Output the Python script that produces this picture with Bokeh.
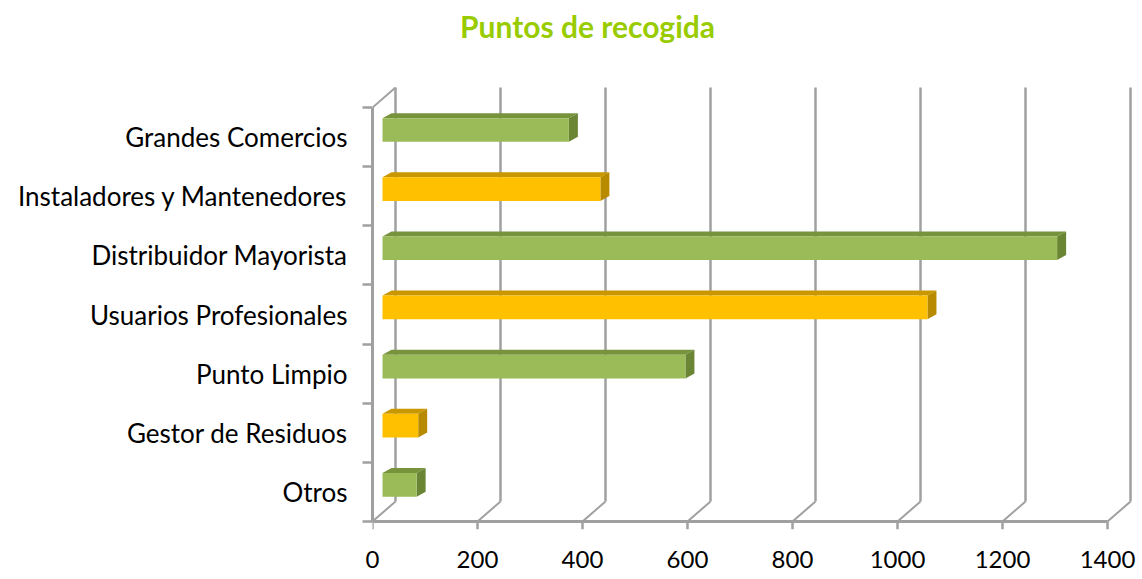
from bokeh.plotting import figure
from bokeh.models import Range1d, LinearAxis, FixedTicker
from bokeh.core.properties import value
from bokeh.embed import file_html
from bokeh.resources import INLINE

# ---------------- data ----------------
title_text = "Puntos de recogida"
categories = ["Grandes Comercios", "Instaladores y Mantenedores", "Distribuidor Mayorista",
              "Usuarios Profesionales", "Punto Limpio", "Gestor de Residuos", "Otros"]
values = [355, 415, 1285, 1038, 577, 68, 65]
bar_series = ["g", "o", "g", "o", "g", "o", "g"]
x_ticks = [0, 200, 400, 600, 800, 1000, 1200, 1400]

# ---------------- styles / geometry (pixels) ----------------
FRONT = {"g": "#9bbb59", "o": "#ffc000"}
TOP = {"g": "#77933c", "o": "#c99700"}
SIDE = {"g": "#6a8534", "o": "#b88a00"}
GRID = "#a0a0a0"

FIG_W, FIG_H = 1142, 579
ML, MR, MT, MB = 372, 0, 0, 50
FRAME_W = FIG_W - ML - MR
FRAME_H = FIG_H - MT - MB
PXX = 0.525      # px per value unit
PXY = 59.14      # px per category slot
FRONT_BOTTOM = 521                  # page y of the front x-axis line
WALL_DX, WALL_DY = 23, 20          # back-wall offset (px)
BAR_X0 = 10                         # bar front-plane x offset (px)
BAR_DX, BAR_DY = 9, 5               # bar depth (px)
BAR_C, BAR_H = 0.62, 0.40           # bar center within slot, height (slots)
TITLE_CX, TITLE_BASE = 587, 25      # title anchor (page px)

ux = lambda px: px / PXX
uy = lambda px: px / PXY

y0 = -uy(FIG_H - MB - FRONT_BOTTOM)
p = figure(width=FIG_W, height=FIG_H, output_backend="svg", toolbar_location=None,
           x_range=Range1d(0, FRAME_W / PXX), y_range=Range1d(y0, y0 + FRAME_H / PXY),
           min_border_left=ML, min_border_right=MR, min_border_top=MT, min_border_bottom=MB,
           x_axis_type=None, y_axis_type=None)
p.grid.visible = False
p.outline_line_color = None
p.background_fill_color = "white"
p.border_fill_color = "white"

n = len(categories)
# ---- title ----
p.text(x=[ux(TITLE_CX - ML)], y=[uy(FRONT_BOTTOM - TITLE_BASE)], text=[title_text],
       text_align="center", text_baseline="alphabetic", text_font=value("Lato"),
       text_font_size="30px", text_font_style="bold", text_color="#99cc00")

# ---- back wall gridlines, floor diagonals ----
wdx, wdy = ux(WALL_DX), uy(WALL_DY)
p.segment(x0=[t + wdx for t in x_ticks], y0=[wdy] * len(x_ticks),
          x1=[t + wdx for t in x_ticks], y1=[n + wdy] * len(x_ticks),
          line_color=GRID, line_width=2.5)
p.segment(x0=x_ticks, y0=[0] * len(x_ticks),
          x1=[t + wdx for t in x_ticks], y1=[wdy] * len(x_ticks),
          line_color=GRID, line_width=2)
p.segment(x0=[0], y0=[n], x1=[wdx], y1=[n + wdy], line_color=GRID, line_width=2)
# ---- front x axis line + ticks ----
p.segment(x0=[0], y0=[0], x1=[x_ticks[-1]], y1=[0], line_color=GRID, line_width=3)
p.segment(x0=x_ticks, y0=[0] * len(x_ticks), x1=x_ticks, y1=[-uy(8)] * len(x_ticks),
          line_color=GRID, line_width=2.5)

# ---- bars (3D) ----
bx0 = ux(BAR_X0)
ddx, ddy = ux(BAR_DX), uy(BAR_DY)
slots = [n - 1 - i for i in range(n)]
yc = [s + BAR_C for s in slots]
left = [bx0] * n
right = [bx0 + v for v in values]
ytop = [c + BAR_H / 2 for c in yc]
ybot = [c - BAR_H / 2 for c in yc]
top_xs = [[l, r, r + ddx, l + ddx] for l, r in zip(left, right)]
top_ys = [[t, t, t + ddy, t + ddy] for t in ytop]
side_xs = [[r, r + ddx, r + ddx, r] for r in right]
side_ys = [[b, b + ddy, t + ddy, t] for b, t in zip(ybot, ytop)]
p.patches(xs=top_xs, ys=top_ys, fill_color=[TOP[s] for s in bar_series], line_color=None)
p.patches(xs=side_xs, ys=side_ys, fill_color=[SIDE[s] for s in bar_series], line_color=None)
p.hbar(y=yc, left=left, right=right, height=BAR_H,
       fill_color=[FRONT[s] for s in bar_series], line_color=None)

# ---- axes ----
yaxis = LinearAxis(bounds=(0, n),
                   ticker=FixedTicker(ticks=[s + 0.5 for s in slots], minor_ticks=list(range(n + 1))),
                   axis_line_color=GRID, axis_line_width=3,
                   major_tick_line_color=None, major_tick_out=0, major_tick_in=0,
                   minor_tick_line_color=GRID, minor_tick_line_width=2.5,
                   minor_tick_out=10, minor_tick_in=0,
                   major_label_standoff=15,
                   major_label_text_font="Lato", major_label_text_font_size="26px",
                   major_label_text_color="#000000")
yaxis.major_label_overrides = {s + 0.5: c for s, c in zip(slots, categories)}
p.add_layout(yaxis, "left")

xaxis = LinearAxis(ticker=FixedTicker(ticks=x_ticks), axis_line_color=None,
                   major_tick_line_color=None, major_tick_out=0, major_tick_in=0,
                   minor_tick_line_color=None,
                   major_label_standoff=21,
                   major_label_text_font="Lato", major_label_text_font_size="24px",
                   major_label_text_color="#000000")
p.add_layout(xaxis, "below")

open("out.html", "w").write(file_html(p, INLINE))
